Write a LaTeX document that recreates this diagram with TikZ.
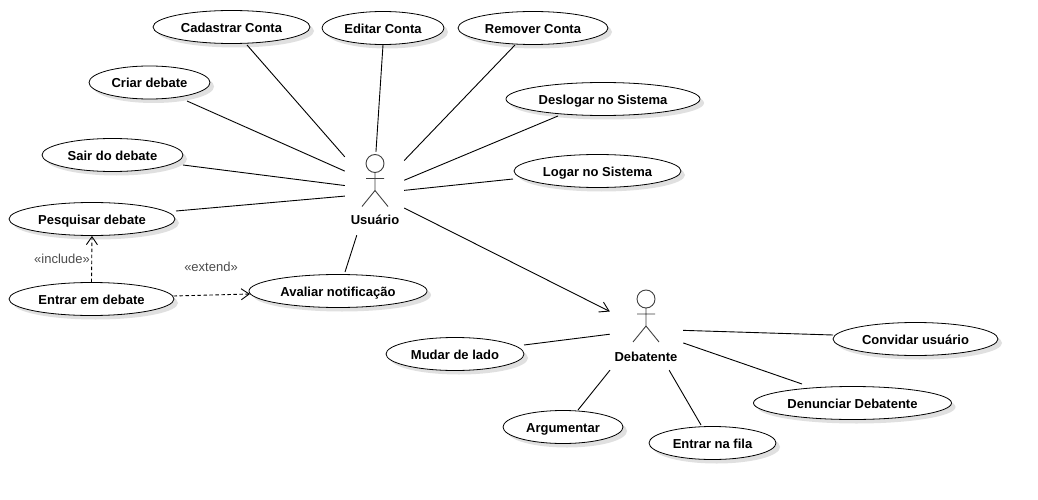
\documentclass[tikz,border=0pt]{standalone}
\usepackage{fontspec}
\setmainfont{Liberation Sans}
\usetikzlibrary{arrows.meta,shadows,shapes.geometric}

\tikzset{
  usecase/.style={ellipse,draw,fill=white,line width=0.8pt,inner sep=0pt,minimum height=33pt,
    text height=11pt,text depth=0pt,
    font=\fontsize{13}{15}\selectfont\bfseries,
    drop shadow={shadow xshift=4pt,shadow yshift=-4pt,fill=black!30,opacity=0.4}},
  actorbox/.style={rectangle,inner sep=0pt},
  actorlabel/.style={font=\fontsize{13}{15}\selectfont\bfseries},
  stereotype/.style={font=\fontsize{13}{15}\selectfont,text=black!70},
  assoc/.style={line width=0.9pt},
  depends/.style={line width=0.9pt,dashed,dash pattern=on 3.5pt off 2.5pt,-{Straight Barb[length=8pt,width=11pt]}},
  general/.style={line width=0.9pt,-{Straight Barb[length=9pt,width=11pt]}}
}

% stick figure, head at (#1,#2)
\newcommand{\stickman}[2]{
  \draw[line width=0.9pt,black!75] (#1,#2) circle (9)
    (#1,#2+9) -- (#1,#2+27)
    (#1-9,#2+15) -- (#1+9,#2+15)
    (#1-13,#2+43) -- (#1,#2+27) -- (#1+13,#2+43);
}

\begin{document}
\begin{tikzpicture}[x=1pt,y=-1pt]
  \useasboundingbox[fill=white] (0,0) rectangle (1038,500);

  \node[usecase,minimum width=157pt] (cadastrar) at (231.5,27) {Cadastrar Conta};
  \node[usecase,minimum width=122pt] (editar) at (383,28) {Editar Conta};
  \node[usecase,minimum width=150pt] (remover) at (533,28) {Remover Conta};
  \node[usecase,minimum width=121pt] (criar) at (149.5,82.5) {Criar debate};
  \node[usecase,minimum width=194pt] (deslogar) at (603,99) {Deslogar no Sistema};
  \node[usecase,minimum width=141pt] (sair) at (112.5,155) {Sair do debate};
  \node[usecase,minimum width=167pt] (logar) at (597.5,171) {Logar no Sistema};
  \node[usecase,minimum width=166pt] (pesquisar) at (92,219) {Pesquisar debate};
  \node[usecase,minimum width=165pt] (entrar) at (91.5,299) {Entrar em debate};
  \node[usecase,minimum width=178pt] (avaliar) at (338,291) {Avaliar notificação};
  \node[usecase,minimum width=138pt] (mudar) at (455,354) {Mudar de lado};
  \node[usecase,minimum width=165pt] (convidar) at (915.5,339) {Convidar usuário};
  \node[usecase,minimum width=198pt] (denunciar) at (852.5,403) {Denunciar Debatente};
  \node[usecase,minimum width=120pt] (argumentar) at (563,427) {Argumentar};
  \node[usecase,minimum width=127pt] (fila) at (712.5,443) {Entrar na fila};

  % actors
  \node[actorbox,minimum width=59pt,minimum height=83pt] (usuario) at (374.5,193.5) {};
  \node[actorbox,minimum width=73pt,minimum height=78pt] (debatente) at (646.5,331) {};
  \stickman{375}{163.5}
  \stickman{646}{299}
  \node[actorlabel] (usuarioLabel) at (375,220) {Usuário};
  \node[actorlabel] (debatenteLabel) at (646,357) {Debatente};

  \draw[assoc] ([shift={(15.5,18)}]cadastrar.center) -- (usuario.129.7);
  \draw[assoc] (editar.south) -- (usuario.88);
  \draw[assoc] ([shift={(-18,17)}]remover.center) -- (usuario.48.6);
  \draw[assoc] ([shift={(-45,17)}]deslogar.center) -- (usuario.24.6);
  \draw[assoc] ([shift={(-84.5,8)}]logar.center) -- (usuario.6.8);
  \draw[assoc] ([shift={(37.5,18.5)}]criar.center) -- (usuario.143.9);
  \draw[assoc] ([shift={(70.5,10)}]sair.center) -- (usuario.165.7);
  \draw[assoc] ([shift={(84,-8)}]pesquisar.center) -- (usuario.-175.2);
  \draw[assoc] ([shift={(7,-19)}]avaliar.center) -- (usuario.247);
  \draw[general] (usuario.-26.2) -- (debatente.152.5);

  \draw[assoc] ([shift={(69,-9)}]mudar.center) -- (debatente.-175.3);
  \draw[assoc] ([shift={(-82.5,-4)}]convidar.center) -- (debatente.1.6);
  \draw[assoc] ([shift={(-50.5,-19)}]denunciar.center) -- (debatente.-18.2);
  \draw[assoc] ([shift={(15,-17)}]argumentar.center) -- (debatente.-133.1);
  \draw[assoc] ([shift={(-11.5,-18)}]fila.center) -- (debatente.-60);

  \draw[depends] (entrar.north) -- (pesquisar.south);
  \draw[depends] ([shift={(82,-3)}]entrar.center) -- ([shift={(-88,3)}]avaliar.center);
  \node[stereotype] (includeLabel) at (62,259) {«include»};
  \node[stereotype] (extendLabel) at (211,267) {«extend»};
\end{tikzpicture}
\end{document}
